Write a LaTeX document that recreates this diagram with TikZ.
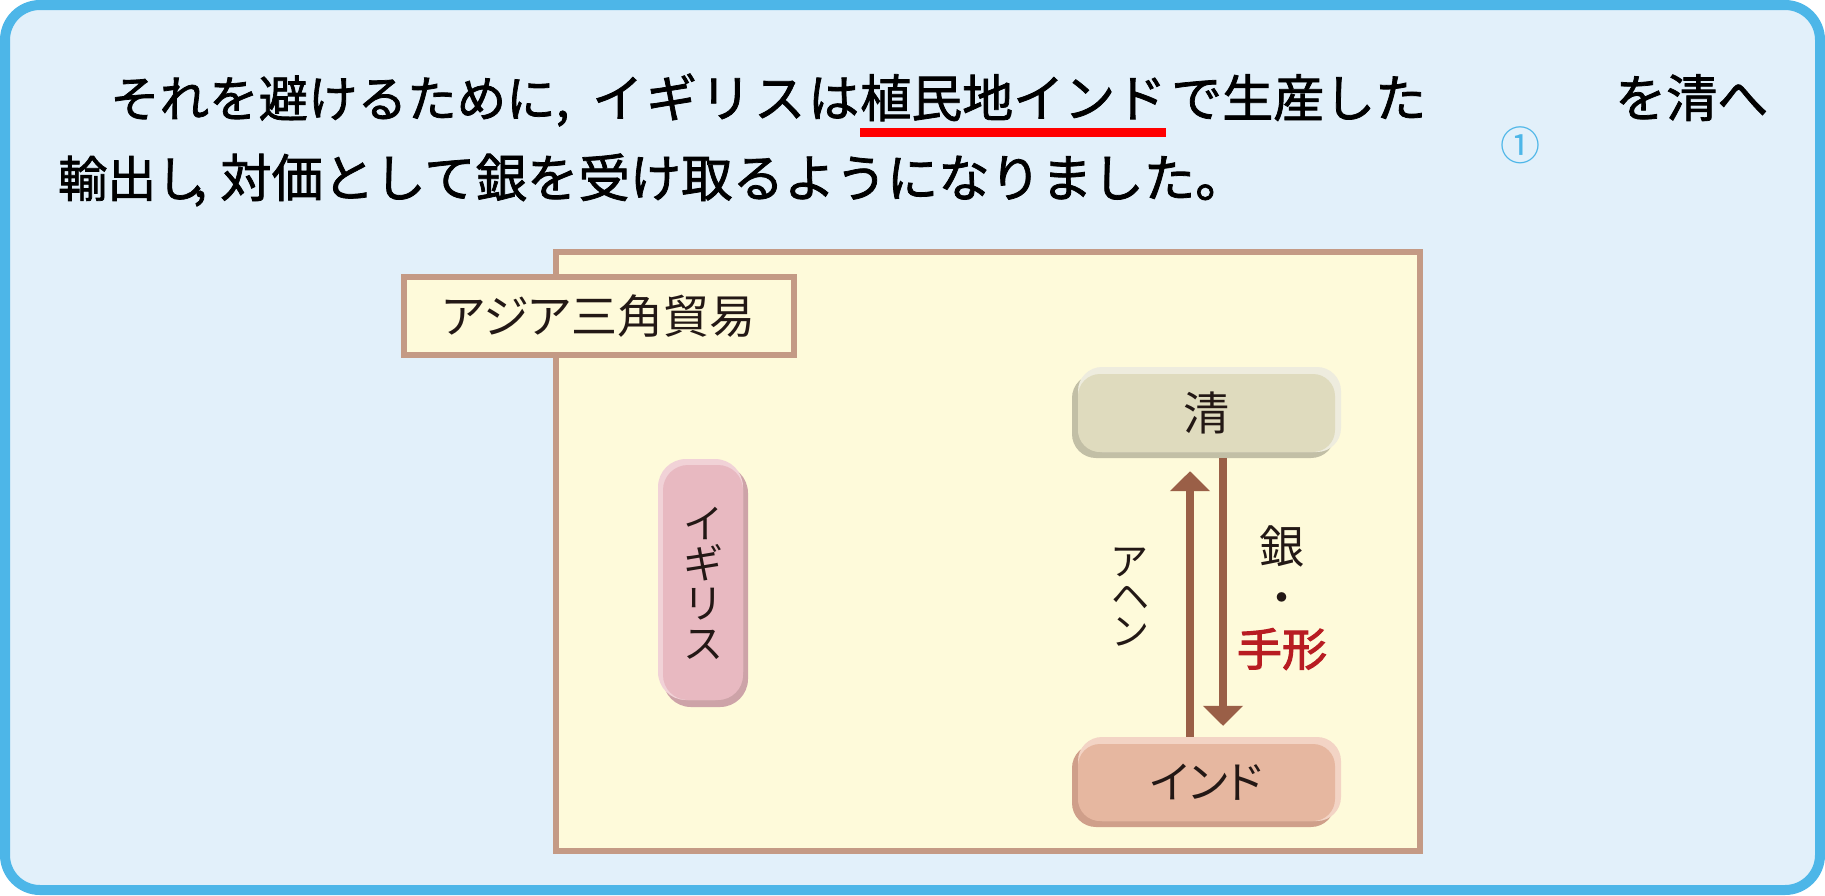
\documentclass[tikz,border=0pt]{standalone}
\usepackage{fontspec}
\usetikzlibrary{arrows.meta}
\newfontfamily\jptext{Noto Sans CJK JP}[FakeBold=1.5]
\newfontfamily\jplabel{Noto Sans CJK JP}[RawFeature=+palt]
\newfontfamily\jpredfont{Noto Sans CJK JP}[RawFeature=+palt,FakeBold=2.5]
\newfontfamily\jpplain{Noto Sans CJK JP}
\definecolor{bgblue}{RGB}{226,240,250}
\definecolor{borderblue}{RGB}{77,182,232}
\definecolor{paper}{RGB}{254,250,218}
\definecolor{framebrown}{RGB}{196,154,133}
\definecolor{inkbrown}{RGB}{35,24,21}
\definecolor{arrowbrown}{RGB}{154,95,71}
\definecolor{redtext}{RGB}{184,28,34}
\definecolor{underred}{RGB}{255,0,0}
\definecolor{igface}{RGB}{232,185,193}
\definecolor{iglight}{RGB}{241,210,215}
\definecolor{igdark}{RGB}{205,163,168}
\definecolor{qface}{RGB}{223,219,190}
\definecolor{qlight}{RGB}{238,236,222}
\definecolor{qdark}{RGB}{194,191,166}
\definecolor{inface}{RGB}{230,183,160}
\definecolor{inlight}{RGB}{243,212,197}
\definecolor{indark}{RGB}{207,159,138}
\tikzset{
  toptext/.style={inner sep=0pt, anchor=base west, text=black,
    font=\jptext\fontsize{51}{60}\selectfont},
  labeltext/.style={inner sep=0pt, text=inkbrown},
  tradearrow/.style={draw=arrowbrown, line width=8pt,
    -{Triangle[width=39pt,length=20pt]}},
}
\begin{document}
\begin{tikzpicture}[x=1pt,y=-1pt]
\useasboundingbox (0,0) rectangle (1825,895);
% outer panel
\draw[line width=10pt, draw=borderblue, fill=bgblue, rounded corners=35pt] (5,5) rectangle (1820,890);

% top sentence
\node[toptext, font=\jptext\fontsize{49.5}{60}\selectfont] (l1a) at (110,117) {それを避けるために,};
\node[toptext] (l1b) at (592,117) {イ\kern3ptギ\kern3ptリ\kern3ptス\kern3ptは};
\node[toptext] (l1c) at (860,117) {植民地インド};
\node[toptext] (l1d) at (1171,117) {で生産した};
\node[toptext] (l1e) at (1615,117) {を清へ};
\node[toptext, font=\jptext\fontsize{49}{60}\selectfont] (l2a) at (58,197) {輸出し\kern-12pt,};
\node[toptext, font=\jptext\fontsize{51.4}{60}\selectfont] (l2b) at (220,197) {対価として銀を受け取るようになりました。};
\draw[underred, line width=9pt] ([yshift=-15.5pt]l1c.base west) -- ([yshift=-15.5pt]l1c.base east);
\node[inner sep=0pt, text=borderblue, font=\jpplain\fontsize{40}{40}\selectfont] (blank1) at (1520,145) {①};

% diagram frame
\draw[draw=framebrown, line width=6pt, fill=paper] (556,252) rectangle (1420,851);
\node[draw=framebrown, line width=6pt, fill=paper, minimum width=390pt, minimum height=78pt,
  inner sep=0pt, text height=35pt, text depth=0pt, text=inkbrown,
  font=\jplabel\fontsize{46}{46}\selectfont] (title) at (599,316) {アジア三角貿易};

% Igirisu box
\fill[igdark, rounded corners=28pt] (663,465) rectangle (748,707);
\fill[iglight, rounded corners=28pt] (658,459) rectangle (743,700);
\fill[igface, rounded corners=25pt] (663,465) rectangle (743,700);
\node[labeltext, align=center, font=\jplabel\fontsize{40}{40}\selectfont] (igirisu) at (703,583) {イ\\ギ\\リ\\ス};

% Qing box
\fill[qdark, rounded corners=24pt] (1072,374) rectangle (1335,458);
\fill[qlight, rounded corners=24pt] (1078,367) rectangle (1341,452);
\fill[qface, rounded corners=22pt] (1078,374) rectangle (1335,452);
\node[labeltext, minimum width=269pt, minimum height=91pt, text height=35pt, text depth=0pt,
  font=\jplabel\fontsize{46}{46}\selectfont] (qing) at (1206.5,412.5) {清};

% India box
\fill[indark, rounded corners=24pt] (1072,744) rectangle (1335,827);
\fill[inlight, rounded corners=24pt] (1078,737) rectangle (1341,821);
\fill[inface, rounded corners=22pt] (1078,744) rectangle (1335,821);
\node[labeltext, minimum width=269pt, minimum height=90pt, text height=33pt, text depth=0pt,
  font=\jplabel\fontsize{44}{44}\selectfont] (india) at (1206.5,782) {インド};

% arrows
\draw[tradearrow, shorten >=13pt] ([xshift=-16.5pt]india.north) -- ([xshift=-16.5pt]qing.south);
\draw[tradearrow, shorten >=11pt] ([xshift=16.5pt]qing.south) -- ([xshift=16.5pt]india.north);

% arrow labels
\node[labeltext, align=center, font=\jplabel\fontsize{38}{35}\selectfont] (opium) at (1130,597) {ア\\ヘ\\ン};
\node[labeltext, align=center, font=\jplabel\fontsize{45}{51}\selectfont] (silver) at (1282,598)
  {銀\\・\\{\color{redtext}\jpredfont 手形}};
\end{tikzpicture}
\end{document}
